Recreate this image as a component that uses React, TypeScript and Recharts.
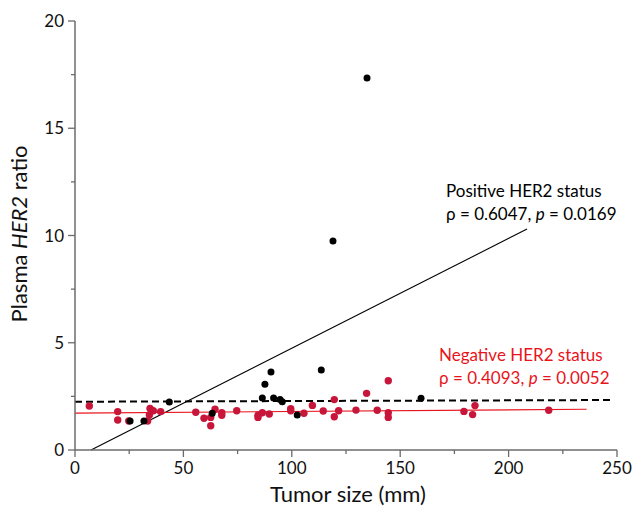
import React from 'react';
import {
  ScatterChart,
  Scatter,
  XAxis,
  YAxis,
  ReferenceLine,
} from 'recharts';

// tumor size (mm) vs plasma HER2 ratio
const posSize = [25.4, 31.8, 43.5, 63.3, 86.4, 87.6, 90.4, 91.6, 94.6, 95.6, 102.5, 113.6, 119.0, 134.7, 159.6];
const posRatio = [1.35, 1.35, 2.24, 1.71, 2.42, 3.06, 3.64, 2.42, 2.36, 2.25, 1.63, 3.73, 9.74, 17.34, 2.41];

const negSize = [
  6.6, 19.7, 19.7, 24.8, 33.5, 34.6, 34.3, 36.1, 39.5, 55.7, 59.5, 62.6, 62.6, 64.6, 67.7, 67.7,
  74.6, 84.4, 84.4, 86.4, 89.6, 99.5, 99.5, 105.6, 109.5, 114.5, 119.6, 119.6, 121.6, 129.6,
  134.5, 139.4, 144.5, 144.5, 144.5, 179.4, 183.4, 184.5, 218.5,
];
const negRatio = [
  2.05, 1.79, 1.4, 1.35, 1.35, 1.94, 1.63, 1.83, 1.79, 1.76, 1.48, 1.13, 1.52, 1.9, 1.74, 1.62,
  1.83, 1.52, 1.62, 1.74, 1.68, 1.93, 1.83, 1.71, 2.08, 1.82, 2.35, 1.55, 1.83, 1.86,
  2.64, 1.85, 3.23, 1.74, 1.52, 1.8, 1.65, 2.07, 1.85,
];

// fitted lines: [x1, y1, x2, y2]
const posFit = [7.4, 0, 208.5, 10.3];
const negFit = [0, 1.72, 236, 1.9];
const overallFit = [0, 2.25, 248, 2.33];

const xTicks = [0, 25, 50, 75, 100, 125, 150, 175, 200, 225, 250];
const yTicks = [0, 2.5, 5, 7.5, 10, 12.5, 15, 17.5, 20];

const positive = posSize.map((x, i) => ({ x, y: posRatio[i] }));
const negative = negSize.map((x, i) => ({ x, y: negRatio[i] }));

const axisColor = '#6b6b6b';
const red = '#e8141c';
const font = 'Lato, "Open Sans", sans-serif';

const XTick = (props: any) => {
  const { x, y, payload } = props;
  const major = payload.value % 50 === 0;
  return (
    <g>
      <line x1={x} y1={y} x2={x} y2={y + (major ? 7 : 4)} stroke={axisColor} strokeWidth={1.3} />
      {major && (
        <text x={x} y={y + 24} textAnchor="middle" fontSize={17} fontFamily={font} fill="#111">
          {payload.value}
        </text>
      )}
    </g>
  );
};

const YTick = (props: any) => {
  const { x, y, payload } = props;
  const major = payload.value % 5 === 0;
  return (
    <g>
      <line x1={x} y1={y} x2={x - (major ? 7 : 4)} y2={y} stroke={axisColor} strokeWidth={1.3} />
      {major && (
        <text x={x - 11} y={y + 6} textAnchor="end" fontSize={17} fontFamily={font} fill="#111">
          {payload.value}
        </text>
      )}
    </g>
  );
};

const seg = (f: number[]) => [
  { x: f[0], y: f[1] },
  { x: f[2], y: f[3] },
];

export default function App() {
  return (
    <div style={{ position: 'fixed', left: 0, top: 0, width: 634, height: 507, background: '#fff' }}>
      <ScatterChart width={634} height={507} margin={{ top: 21, right: 17, bottom: 0, left: 0 }}>
        <XAxis
          type="number"
          dataKey="x"
          domain={[0, 250]}
          ticks={xTicks}
          tickSize={0}
          tickMargin={0}
          tickLine={false}
          tick={<XTick />}
          height={57}
          stroke={axisColor}
          strokeWidth={1.5}
          allowDataOverflow
        />
        <YAxis
          type="number"
          dataKey="y"
          domain={[0, 20]}
          ticks={yTicks}
          tickSize={0}
          tickMargin={0}
          tickLine={false}
          tick={<YTick />}
          width={75}
          stroke={axisColor}
          strokeWidth={1.5}
          allowDataOverflow
        />
        <ReferenceLine segment={seg(overallFit)} stroke="#000" strokeWidth={2} strokeDasharray="7 4" ifOverflow="visible" />
        <ReferenceLine segment={seg(posFit)} stroke="#000" strokeWidth={1.1} ifOverflow="visible" />
        <ReferenceLine segment={seg(negFit)} stroke={red} strokeWidth={1.2} ifOverflow="visible" />
        <Scatter data={negative} fill="#c8153a" isAnimationActive={false} shape={(p: any) => <circle cx={p.cx} cy={p.cy} r={3.7} fill="#c8153a" />} />
        <Scatter data={positive} fill="#000" isAnimationActive={false} shape={(p: any) => <circle cx={p.cx} cy={p.cy} r={3.5} fill="#000" />} />
      </ScatterChart>
      <svg
        width={634}
        height={507}
        style={{ position: 'absolute', left: 0, top: 0, pointerEvents: 'none' }}
        fontFamily={font}
      >
        <text transform="translate(27 234) rotate(-90)" textAnchor="middle" fontSize={22} fill="#111">
          Plasma <tspan fontStyle="italic">HER2</tspan> ratio
        </text>
        <text x={348} y={502} textAnchor="middle" fontSize={22} fill="#111">
          Tumor size (mm)
        </text>
        <text x={446} y={197} fontSize={17} fill="#000">
          Positive HER2 status
        </text>
        <text x={446} y={220} fontSize={17} fill="#000">
          ρ = 0.6047, <tspan fontStyle="italic">p</tspan> = 0.0169
        </text>
        <text x={439} y={361} fontSize={17} fill={red}>
          Negative HER2 status
        </text>
        <text x={439} y={384} fontSize={17} fill={red}>
          ρ = 0.4093, <tspan fontStyle="italic">p</tspan> = 0.0052
        </text>
      </svg>
    </div>
  );
}
